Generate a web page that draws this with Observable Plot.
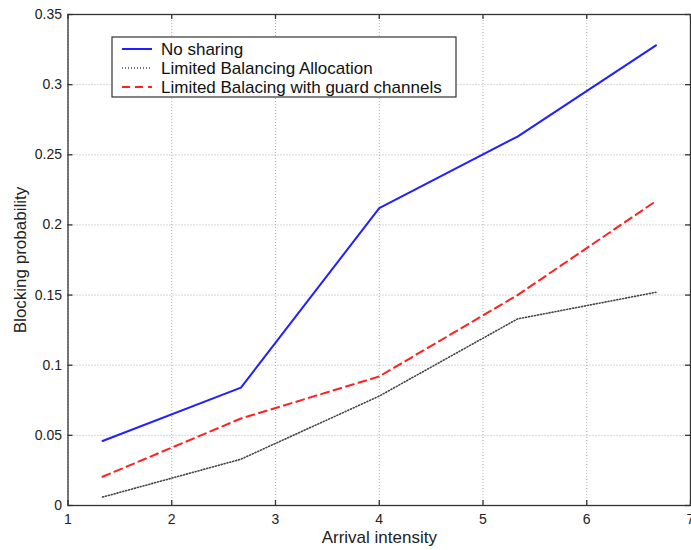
<!DOCTYPE html>
<html>
<head>
<meta charset="utf-8">
<script src="https://cdn.jsdelivr.net/npm/d3@7"></script>
<script src="https://cdn.jsdelivr.net/npm/@observablehq/plot@0.6"></script>
<style>
  html, body { margin: 0; padding: 0; background: #fff; }
  #chart { width: 691px; height: 550px; overflow: hidden; }
</style>
</head>
<body>
<div id="chart"></div>
<script>
// Arrival intensity at which each blocking probability was measured
const arrivals = [1.333, 2.667, 4, 5.333, 6.667];

// Blocking probability for each allocation scheme
const noSharing = [0.046, 0.084, 0.212, 0.263, 0.328];
const limitedBalancing = [0.006, 0.033, 0.078, 0.133, 0.152];
const guardChannels = [0.0205, 0.062, 0.092, 0.150, 0.217];

// Axis ticks
const xTicks = [1, 2, 3, 4, 5, 6, 7];
const yTicks = [0, 0.05, 0.1, 0.15, 0.2, 0.25, 0.3, 0.35];
const yTickLabels = ["0", "0.05", "0.1", "0.15", "0.2", "0.25", "0.3", "0.35"];

const seriesNames = ["No sharing", "Limited Balancing Allocation", "Limited Balacing with guard channels"];

const toRows = (values) => arrivals.map((x, i) => ({x, y: values[i]}));

const W = 691, H = 550;
const mL = 67.5, mR = 1, mT = 14, mB = 45;
const innerW = W - mL - mR, innerH = H - mT - mB;
const tickLen = 5;

const styles = [
  {stroke: "#1f1fff", strokeWidth: 2},
  {stroke: "#444", strokeWidth: 1.6, strokeDasharray: "1,2"},
  {stroke: "#ff2020", strokeWidth: 2, strokeDasharray: "8,5"}
];

const chart = Plot.plot({
  width: W,
  height: H,
  marginLeft: mL,
  marginRight: mR,
  marginTop: mT,
  marginBottom: mB,
  style: {fontFamily: "'Liberation Sans', Arial, sans-serif", fontSize: "14px", background: "#fff", color: "#222"},
  x: {domain: [1, 7]},
  y: {domain: [0, 0.35]},
  marks: [
    Plot.gridX(xTicks, {stroke: "#9a9a9a", strokeOpacity: 0.8, strokeDasharray: "1,2"}),
    Plot.gridY(yTicks, {stroke: "#9a9a9a", strokeOpacity: 0.8, strokeDasharray: "1,2"}),
    Plot.line(toRows(limitedBalancing), {x: "x", y: "y", ...styles[1]}),
    Plot.line(toRows(guardChannels), {x: "x", y: "y", ...styles[2]}),
    Plot.line(toRows(noSharing), {x: "x", y: "y", ...styles[0]}),
    // inward tick marks on all four sides
    Plot.tickX(xTicks, {x: d => d, insetTop: innerH - tickLen, stroke: "#333", strokeWidth: 1.3}),
    Plot.tickX(xTicks, {x: d => d, insetBottom: innerH - tickLen, stroke: "#333", strokeWidth: 1.3}),
    Plot.tickY(yTicks, {y: d => d, insetRight: innerW - tickLen, stroke: "#333", strokeWidth: 1.3}),
    Plot.tickY(yTicks, {y: d => d, insetLeft: innerW - tickLen, stroke: "#333", strokeWidth: 1.3}),
    Plot.frame({stroke: "#333", strokeWidth: 1.3}),
    Plot.axisX(xTicks, {
      tickSize: 0, tickPadding: 9, fontSize: 14, label: null,
      tickFormat: d => String(d)
    }),
    Plot.axisX({
      ticks: [], tickSize: 0, fontSize: 17,
      label: "Arrival intensity", labelAnchor: "center", labelArrow: "none", labelOffset: 37
    }),
    Plot.axisY(yTicks, {
      tickSize: 0, tickPadding: 6, fontSize: 14, label: null,
      tickFormat: (d, i) => yTickLabels[i]
    }),
    Plot.axisY({
      ticks: [], tickSize: 0, fontSize: 17,
      label: "Blocking probability", labelAnchor: "center", labelArrow: "none", labelOffset: 54
    })
  ]
});

document.getElementById("chart").appendChild(chart);

// Legend box inside the plot area
const svg = d3.select(chart);
const lg = svg.append("g").attr("transform", "translate(112,37)").attr("text-anchor", "start");
lg.append("rect")
  .attr("width", 344).attr("height", 60)
  .attr("fill", "#fff").attr("stroke", "#333").attr("stroke-width", 1.2);
seriesNames.forEach((name, i) => {
  const y = 12 + i * 19;
  const s = styles[i];
  lg.append("line")
    .attr("x1", 10).attr("x2", 40).attr("y1", y).attr("y2", y)
    .attr("stroke", s.stroke).attr("stroke-width", s.strokeWidth)
    .attr("stroke-dasharray", s.strokeDasharray || null);
  lg.append("text")
    .attr("x", 49).attr("y", y).attr("dy", "0.35em")
    .attr("font-size", 17).attr("fill", "#111")
    .text(name);
});
</script>
</body>
</html>
